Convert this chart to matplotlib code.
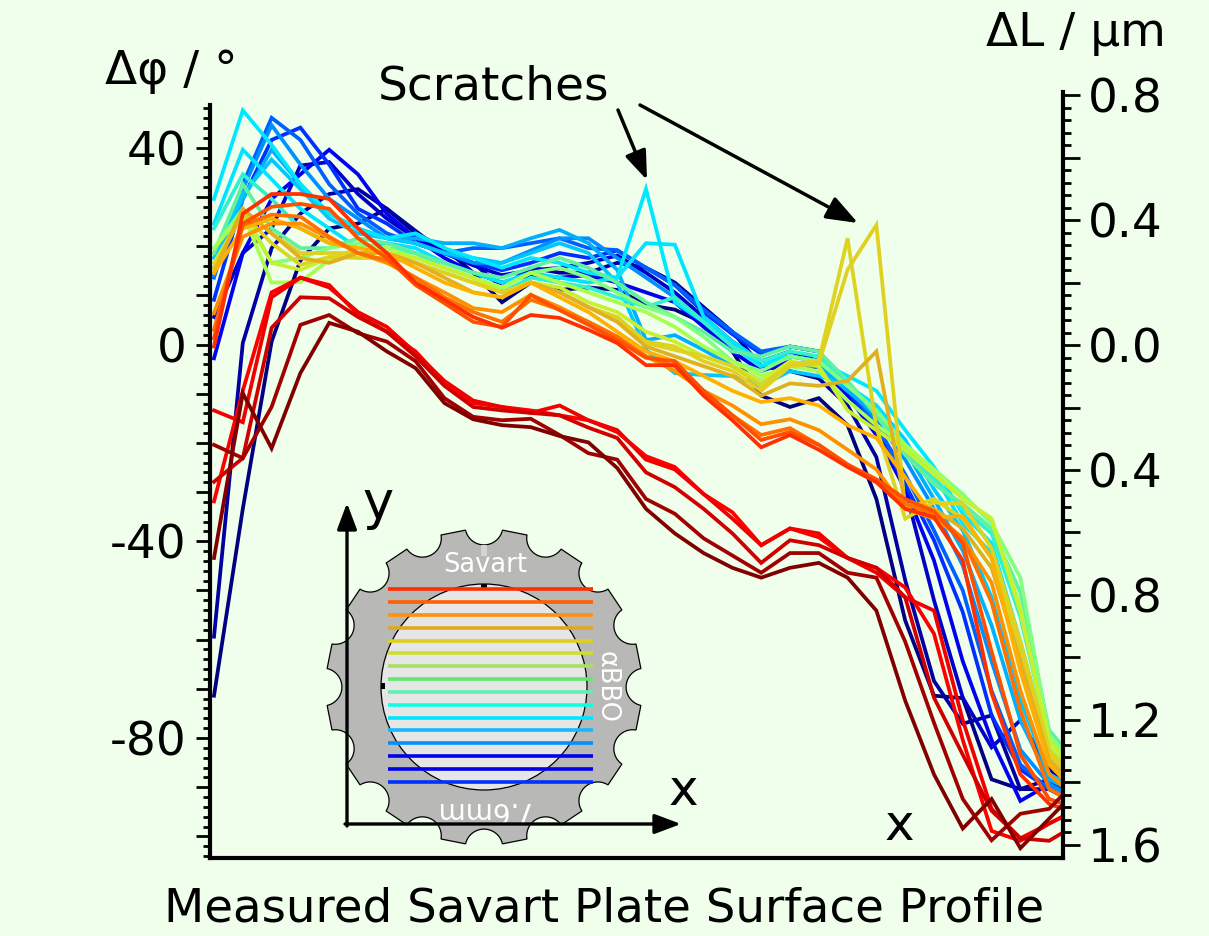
import numpy as np
import matplotlib
matplotlib.use("Agg")
import matplotlib.pyplot as plt
from matplotlib.patches import Polygon, Circle, Rectangle, FancyArrowPatch

W, H = 1209, 936
BG = "#f0ffec"

line_colors = ['#000080', '#0000a0', '#0000c8', '#0000f0', '#0030ff', '#0060ff', '#0090ff', '#00b0ff',
               '#00c8ff', '#00e8ff', '#00e4ff', '#30f0d0', '#60f0a0', '#80ff80', '#a8ff50', '#c8f030',
               '#dcd420', '#e0d020', '#e0b020', '#ffb000', '#ff9000', '#ff7000', '#ff5000', '#ff3000',
               '#ff0000', '#f00000', '#d00000', '#a00000', '#800000']

s01 = [-71, -33, 1, 17.5, 24, 25, 28, 23, 20, 15, 9, 13, 11.5, 12, 11.5, 8.5, 7.5, 4.8, -1, -10, -12.3, -10.5, -16, -31, -55.7, -71, -71.5, -88, -90, -90, -93]
s02 = [-59, 0.7, 20, 27, 31, 32, 28, 23.5, 19, 17, 12, 16, 15, 15, 17, 16, 13, 8, 3, -4, -5, -6.5, -12, -22.5, -47.5, -68, -76.7, -75, -90, -88, -92]
s03 = [6, 19, 24, 36.8, 37.5, 31, 26, 22, 19, 16.5, 14.5, 15.5, 16, 17, 18.5, 15, 11, 6, 1, -3, -1, -3, -8, -17, -29, -51.6, -71.4, -81.5, -76, -86, -90]
s04 = [-2.4, 19, 30, 35, 40, 35, 27, 22, 18, 15, 13, 14.5, 14, 14.5, 13, 11, 9, 4, -1, -5, -3, -5, -10, -18, -29, -43.5, -64, -80, -92.4, -89, -92]
s05 = [9.5, 30, 42, 44.5, 37, 28, 25, 21, 19, 17, 15.5, 17, 19, 18, 19.5, 16, 12.5, 7, 2.5, -1.5, 0, -1, -9, -17, -28, -39.4, -54, -75, -86, -90, -93]
s06 = [14, 33, 46.5, 42, 33, 27, 23, 21, 19, 20, 20, 21, 22, 20, 19.6, 16, 12.5, 7.5, 3, -1, 0, -1, -8, -16, -26, -37.4, -49.6, -70, -85, -90, -93]
s07 = [14.5, 32, 45, 37, 30, 26, 22, 21, 19, 17, 17, 19.5, 22, 22, 18, 14, 10, 5, 1, -3, -2, -3, -8, -15, -23, -33, -44.5, -64, -82, -89, -92]
s08 = [16, 30, 40, 33, 27, 24, 22, 22, 21, 21, 20, 22, 23.7, 21, 15.6, 1.3, 2.3, -0.7, -4, -7, -4, -4, -9, -14, -21, -31, -41.5, -56.7, -76, -88, -91]
s09 = [18, 31, 38, 32, 26, 23, 22, 21, 19, 18, 17, 19, 21, 19, 13, -0.7, -5.4, -5.8, -6, -8, -5, -6, -8, -12, -19, -29, -37.4, -51, -72, -87, -90]
s10 = [30, 48, 41, 33, 27, 24, 22, 23, 20, 18, 16, 18, 17, 15, 14, 32, 9, 5, 0, -4, -2, -3, -6, -9, -17, -24.5, -34, -40, -60, -82, -88]
s11 = [25, 40, 34, 28, 24, 20, 21, 20, 17, 15, 13, 15, 14, 13, 14, 21, 20.7, 6, 1, -3, -2, -3, -8, -12, -20, -26, -36, -42, -62, -82, -87]
s12 = [24, 35, 30, 24, 21, 20, 20, 19, 16, 14, 11, 14, 13, 12, 10, 8, 10, 5, 0, -3, -1, -2, -8, -13, -21, -27, -33, -38, -55, -80, -86]
s13 = [19, 33, 24, 20, 20, 22, 21, 19, 17, 15, 14, 16, 18, 16, 13, 9, 6, 3, -1, -2, 0, -1, -7, -14, -22, -28, -32, -37, -50, -78, -85]
s14 = [20, 28, 17, 18, 20, 21, 20, 18, 16, 14, 12, 15, 16, 14, 11, 8, 6, 2, -3, -5, -2, -3, -8, -13, -20, -25, -30, -36, -47, -79, -86]
s15 = [20, 27, 13, 13.1, 17.6, 20, 20, 18, 16, 14, 12, 15, 13, 11, 9, 7, 4, 0, -3, -6, -4, -5, -11, -16, -20, -25, -31, -35, -53, -81, -88]
s16 = [17, 27, 17, 15.6, 18, 19, 19, 18, 16, 14, 11, 13, 12, 9, 7, 3, 1, -2, -4, -7, -3, -4, -13, -17, -21, -26, -31, -35, -54, -80, -87]
s17 = [16, 27, 21, 16.6, 18.2, 18, 18, 17, 15, 13, 11, 13, 11, 8, 5.8, 0.7, -0.7, -2, -4, -8, -3.5, -3, 22, -16.5, -35, -31.7, -32, -41, -60, -82, -88]
s18 = [16, 27.8, 23, 19, 19, 19, 19, 17, 15, 13, 11, 13, 11, 8, 6, 1, 0, -3, -5, -9, -4, -3.5, 15.6, 24.7, -33, -31, -35, -43, -62, -83, -89]
s19 = [15, 28, 23, 18, 17, 19, 19, 17, 14, 11, 10, 13, 11, 8, 5, 0, -2, -4, -6, -10, -7.5, -8, -7, -1, -32, -33, -37, -45, -64, -84, -90]
s20 = [15, 24, 26, 24, 21, 20, 19, 16, 13, 11, 10, 13, 10, 7, 3, -1, -3, -6, -9, -11.3, -10.5, -12, -16, -18.6, -26.6, -34.7, -34.5, -43, -66, -85, -91]
s21 = [6.8, 22.3, 25, 25, 22, 19, 17, 14, 11, 7.8, 7, 10.5, 8, 5, 2, -2, -5, -9, -12, -15.8, -14.8, -17, -21, -25, -33, -35, -39, -48, -70, -87, -92]
s22 = [3.4, 24.7, 26.8, 26.4, 22.3, 19, 17.5, 14, 10, 7, 5, 9.5, 7.5, 5, 2, -2, -4, -9, -14, -18, -16.6, -20, -24, -27.5, -32, -34, -39, -52, -74, -90, -93]
s23 = [1.7, 25, 28.4, 29, 28, 22, 18, 12.5, 8.8, 5, 4, 10.5, 7.4, 4.4, 1.3, -2.3, -3, -9, -14, -19, -17.4, -20, -24, -27, -31, -33.5, -40, -62, -83, -92, -94]
s24 = [0, 27, 31, 31, 30, 24, 19, 13, 9.5, 6, 3.8, 6.4, 5.8, 3.4, 0.7, -3.8, -3.8, -10, -15, -20.5, -18, -21, -24.5, -27.6, -33, -34.7, -43.5, -70.5, -87, -93, -95]
s25 = [-31.5, -9, 11, 14, 12.5, 6.5, 3, -1, -7.4, -11.5, -12.3, -13, -14, -15, -17.4, -22.3, -24.5, -30, -33.7, -40.4, -37, -38.8, -43, -45, -49, -58.4, -80, -98.5, -100.5, -97, -94]
s26 = [-13, -15.4, 10, 14, 12, 7, 4, -1.3, -7, -11, -12.3, -13.5, -12, -15, -17, -23, -25, -30, -35, -40.4, -37, -38, -43, -46, -51, -53.7, -76, -94, -100, -97, -94]
s27 = [-27.5, -22.7, 3.8, 10, 9.8, 6, 3, -2, -8, -12.3, -13, -13.5, -14, -16.5, -18.6, -25.6, -28.6, -33, -38, -44, -39.4, -40.4, -43, -45, -51, -71.4, -83, -94.4, -100, -100.5, -97]
s28 = [-20, -22.7, -12.3, 4.4, 6.4, 2.7, 1, -3, -10.5, -14.3, -15, -14.7, -18, -21.7, -23, -31, -34, -39, -42.5, -46, -42, -42, -46, -47, -60, -76.5, -92, -100.4, -95, -94, -88]
s29 = [-43, -9.5, -20.7, -5.4, 4.8, 3, -1, -4.4, -11.5, -14.8, -16, -16.4, -18.2, -19.5, -24.7, -33, -38, -42, -45, -47, -45, -44, -47, -53.7, -72, -87, -98, -92, -102, -96, -90]
series = [s01, s02, s03, s04, s05, s06, s07, s08, s09, s10, s11, s12, s13, s14, s15, s16, s17, s18, s19, s20,
          s21, s22, s23, s24, s25, s26, s27, s28, s29]

left_ticks = [-100, -90, -80, -70, -60, -50, -40, -30, -20, -10, 0, 10, 20, 30, 40]
left_labels = ['', '', '-80', '', '', '', '-40', '', '', '', '0', '', '', '', '40']
right_ticks = [-1.6, -1.4, -1.2, -1.0, -0.8, -0.6, -0.4, -0.2, 0.0, 0.2, 0.4, 0.6, 0.8]
right_labels = ['1.6', '', '1.2', '', '0.8', '', '0.4', '', '0.0', '', '0.4', '', '0.8']

inset_colors = ['#ff3000', '#ff6000', '#ff9010', '#dfa820', '#dfd020', '#cde030', '#aae060', '#60e870',
                '#60f0b0', '#10ffe0', '#00e8ff', '#18b8ff', '#0090ff', '#0000f0', '#0000e8', '#0030ff']

plt.rcParams['font.family'] = 'DejaVu Sans'
fig = plt.figure(figsize=(W / 100, H / 100), dpi=100, facecolor=BG)


def rect(l, t, r, b):
    return [l / W, 1 - b / H, (r - l) / W, (b - t) / H]


ax = fig.add_axes(rect(210, 105, 1063, 858), facecolor='none')
x = np.arange(31)
zero_shift = -0.4  # the values above were read against a zero line 2 px too low
for vals, c in zip(series, line_colors):
    ax.plot(x, np.array(vals) + zero_shift, color=c, lw=2.7, solid_joinstyle='miter')
ax.set_xlim(-0.139, 29.48)
ax.set_ylim(-104.4, 48.7)
ax.set_xticks([])
ax.spines['top'].set_visible(False)
ax.spines['right'].set_visible(False)
for sp in ('left', 'bottom'):
    ax.spines[sp].set_linewidth(3)
ax.set_yticks(left_ticks)
ax.set_yticklabels(left_labels, fontsize=33.8)
ax.set_yticks(np.arange(-104, 49, 2), minor=True)
ax.tick_params(axis='y', which='major', length=10, width=2, pad=7)
ax.tick_params(axis='y', which='minor', length=5, width=2)

ax2 = fig.add_axes(rect(210, 92, 1063, 858), facecolor='none')
ax2.set_xlim(0, 1)
ax2.set_ylim(-1.642, 0.81)
ax2.set_xticks([])
ax2.yaxis.tick_right()
for sp in ('top', 'left', 'bottom'):
    ax2.spines[sp].set_visible(False)
ax2.spines['right'].set_linewidth(3)
ax2.set_yticks(right_ticks)
ax2.set_yticklabels(right_labels, fontsize=33.8)
ax2.set_yticks(np.arange(-1.6, 0.81, 0.04), minor=True)
ax2.tick_params(axis='y', which='major', length=12, width=2, pad=6)
ax2.tick_params(axis='y', which='minor', length=6, width=2)

# overlay in pixel coordinates for the annotations and the inset sketch
ov = fig.add_axes([0, 0, 1, 1], facecolor='none')
ov.set_xlim(0, W)
ov.set_ylim(H, 0)
ov.axis('off')

cx, cy = 484, 687
pts = []
for k in range(16):
    a0 = np.deg2rad(k * 22.5)
    th = np.linspace(-np.pi * 0.43, np.pi * 0.43, 25)
    nx = 161 * np.cos(a0) - 18.9 * np.cos(a0 - th)
    ny = 161 * np.sin(a0) - 18.9 * np.sin(a0 - th)
    pts.extend(zip(cx + nx, cy + ny))
ov.add_patch(Polygon(pts, closed=True, facecolor='#b8b9b6', edgecolor='black', lw=0.9, zorder=2))
ov.add_patch(Circle((cx, cy), 103, facecolor='#e6e6e6', edgecolor='black', lw=0.9, zorder=3))
ov.add_patch(Rectangle((481, 545), 6, 11, facecolor='#d4d4d2', edgecolor='none', zorder=3))
ov.add_patch(Rectangle((481, 584), 6, 4, facecolor='black', edgecolor='none', zorder=4))
ov.add_patch(Rectangle((381, 683), 4, 6, facecolor='black', edgecolor='none', zorder=4))
for i, c in enumerate(inset_colors):
    yy = 589.3 + i * 12.83
    ov.plot([388, 593], [yy, yy], color=c, lw=2.6, solid_capstyle='butt', zorder=5)

ov.text(485, 565, 'Savart', color='white', fontsize=18.5, ha='center', va='center', zorder=6)
ov.text(607, 687, 'αBBO', color='white', fontsize=18.5, rotation=-90, ha='center', va='center', zorder=6)
ov.text(483, 810, '7.6mm', color='white', fontsize=20, rotation=180, ha='center', va='center', zorder=6)


def arrow(p0, p1, lw, ms):
    ov.add_patch(FancyArrowPatch(p0, p1, arrowstyle='-|>,head_length=0.8,head_width=0.3', mutation_scale=ms,
                                 color='black', lw=lw, shrinkA=0, shrinkB=0, zorder=7))


arrow((347, 826), (347, 503), 2.4, 20)
arrow((345, 824), (681, 824), 2.4, 20)
arrow((618, 110), (647, 180), 2.5, 22)
arrow((640, 105), (858, 223), 2.5, 24)

ov.text(494, 87, 'Scratches', fontsize=33.8, ha='center', va='center', zorder=8)
ov.text(378, 504, 'y', fontsize=38, ha='center', va='center', zorder=8)
ov.text(683, 791, 'x', fontsize=36, ha='center', va='center', zorder=8)
ov.text(899, 826, 'x', fontsize=36, ha='center', va='center', zorder=8)
ov.text(171, 71, 'Δφ / °', fontsize=33.8, ha='center', va='center', zorder=8)
ov.text(1076, 34, 'ΔL / µm', fontsize=33.8, ha='center', va='center', zorder=8)
ov.text(604, 909, 'Measured Savart Plate Surface Profile', fontsize=33.6, ha='center', va='center', zorder=8)

fig.savefig('out.png', dpi=100, facecolor=BG)
